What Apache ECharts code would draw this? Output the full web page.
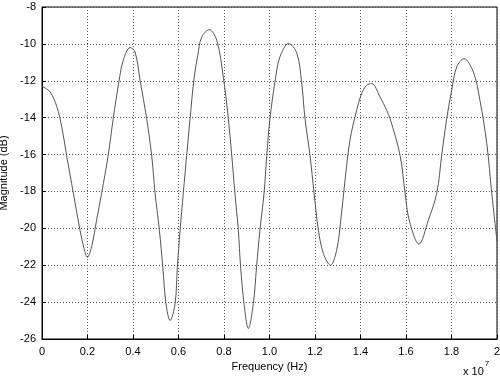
<!DOCTYPE html>
<html>
<head>
<meta charset="utf-8">
<script src="https://cdn.jsdelivr.net/npm/echarts@6/dist/echarts.min.js"></script>
<style>
  html, body { margin: 0; padding: 0; background: #fff; }
  #chart { width: 500px; height: 376px; }
</style>
</head>
<body>
<div id="chart"></div>
<script>
// frequency in units of 1e7 Hz
const freq = [
  0, 0.035, 0.065, 0.087, 0.108, 0.138, 0.167, 0.185, 0.199, 0.218, 0.24, 0.262,
  0.291, 0.313, 0.338, 0.357, 0.387, 0.409, 0.431, 0.46, 0.482, 0.497, 0.516, 0.531,
  0.545, 0.563, 0.585, 0.595, 0.607, 0.621, 0.636, 0.651, 0.668, 0.685, 0.702, 0.735,
  0.768, 0.797, 0.819, 0.834, 0.848, 0.863, 0.873, 0.888, 0.907, 0.929, 0.943, 0.958,
  0.976, 0.988, 1.002, 1.024, 1.046, 1.084, 1.12, 1.141, 1.156, 1.178, 1.196, 1.215,
  1.237, 1.268, 1.295, 1.312, 1.332, 1.354, 1.383, 1.405, 1.427, 1.449, 1.486, 1.515,
  1.53, 1.574, 1.596, 1.615, 1.657, 1.698, 1.735, 1.757, 1.779, 1.801, 1.823, 1.855,
  1.896, 1.925, 1.955, 1.977, 2.0
];
const magnitude = [
  -12.3, -12.6, -13.4, -14.5, -16.04, -18.1, -20.1, -21.1, -21.58, -21.0, -19.56, -18.1,
  -16.04, -14.05, -12.06, -10.9, -10.2, -10.44, -11.97, -14.05, -16.04, -18.1, -20.1, -22.1,
  -24.08, -25.0, -24.08, -22.1, -20.1, -18.1, -16.04, -14.05, -11.9, -10.6, -9.63, -9.23,
  -9.8, -11.8, -14.05, -16.04, -18.1, -20.1, -22.1, -24.08, -25.43, -24.08, -22.1, -20.1,
  -18.1, -16.04, -14.05, -12.06, -10.7, -9.98, -10.5, -12.06, -14.05, -16.04, -18.1, -20.1,
  -21.37, -22.0, -21.2, -19.7, -17.4, -15.2, -13.6, -12.7, -12.24, -12.15, -12.88, -13.6,
  -14.05, -16.04, -18.1, -19.6, -20.86, -19.56, -18.1, -16.04, -14.05, -12.5, -11.25, -10.8,
  -11.52, -13.06, -15.4, -18.1, -20.7
];
const xTicks = { min: 0, max: 2, step: 0.2 };
const yTicks = { min: -26, max: -8, step: 2 };

const font = 'Liberation Sans, Arial, sans-serif';
const chart = echarts.init(document.getElementById('chart'), null, { renderer: 'canvas' });

chart.setOption({
  animation: false,
  backgroundColor: '#fff',
  grid: {
    left: 42, right: 3, top: 7, bottom: 37,
    outerBoundsMode: 'none',
    containLabel: false,
    show: true, borderColor: '#000', borderWidth: 1, backgroundColor: 'transparent'
  },
  xAxis: {
    type: 'value',
    min: xTicks.min, max: xTicks.max, interval: xTicks.step,
    name: 'Frequency (Hz)',
    nameLocation: 'middle',
    nameGap: 20,
    nameTextStyle: { fontFamily: font, fontSize: 11, color: '#000' },
    axisLine: { lineStyle: { color: '#000', width: 1 } },
    axisTick: { inside: true, length: 4, lineStyle: { color: '#000' } },
    axisLabel: {
      fontFamily: font, fontSize: 11, color: '#000', margin: 7,
      formatter: v => (v === 0 || v === 2) ? String(v) : v.toFixed(1)
    },
    splitLine: { show: true, lineStyle: { color: '#555', type: [1, 2], width: 1 } }
  },
  yAxis: {
    type: 'value',
    min: yTicks.min, max: yTicks.max, interval: yTicks.step,
    name: 'Magnitude (dB)',
    nameLocation: 'middle',
    nameGap: 28,
    nameTextStyle: { fontFamily: font, fontSize: 11, color: '#000' },
    axisLine: { show: true, lineStyle: { color: '#000', width: 1 } },
    axisTick: { show: true, inside: true, length: 4, lineStyle: { color: '#000' } },
    axisLabel: { fontFamily: font, fontSize: 11, color: '#000', margin: 6 },
    splitLine: { show: true, lineStyle: { color: '#555', type: [1, 2], width: 1 } }
  },
  graphic: [{
    type: 'text',
    left: 463, top: 360,
    style: {
      text: '{a|x 10}{b|7}',
      rich: {
        a: { fontFamily: font, fontSize: 11, fill: '#000', verticalAlign: 'bottom', padding: [6, 0, 0, 0] },
        b: { fontFamily: font, fontSize: 8, fill: '#000', verticalAlign: 'top', padding: [0, 0, 6, 1] }
      }
    }
  }],
  series: [{
    type: 'line',
    smooth: 0.35,
    showSymbol: false,
    data: freq.map((f, i) => [f, magnitude[i]]),
    lineStyle: { color: '#555', width: 1 }
  }]
});
</script>
</body>
</html>
